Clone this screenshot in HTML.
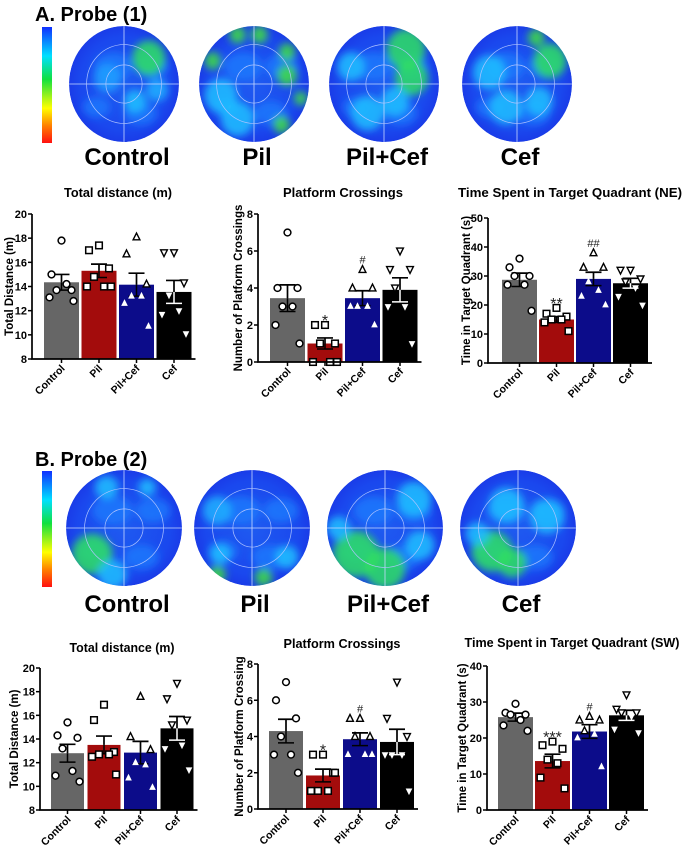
<!DOCTYPE html>
<html><head><meta charset="utf-8"><style>
html,body{margin:0;padding:0;background:#fff;}
svg{display:block;font-family:"Liberation Sans",Arial,sans-serif;}
</style></head><body>
<svg id="fig" width="685" height="852" viewBox="0 0 685 852" xmlns="http://www.w3.org/2000/svg">
<defs>
<linearGradient id="cbar" x1="0" y1="0" x2="0" y2="1">
<stop offset="0" stop-color="#1030ff"/><stop offset="0.25" stop-color="#00e0ff"/><stop offset="0.45" stop-color="#10e040"/><stop offset="0.7" stop-color="#ffff00"/><stop offset="0.85" stop-color="#ff8000"/><stop offset="1" stop-color="#ff1010"/>
</linearGradient>
<radialGradient id="poolbg" cx="0.5" cy="0.5" r="0.5">
<stop offset="0" stop-color="#1f5af0"/><stop offset="0.8" stop-color="#1a48ee"/><stop offset="1" stop-color="#1a3ce8"/>
</radialGradient>
<filter id="blur" x="-50%" y="-50%" width="200%" height="200%"><feGaussianBlur stdDeviation="4"/></filter>
</defs>
<text x="35" y="21" font-size="20" font-weight="bold">A. Probe (1)</text>
<text x="35" y="466" font-size="20" font-weight="bold">B. Probe (2)</text>
<rect x="42" y="27" width="10" height="116" fill="url(#cbar)"/>
<rect x="42" y="471" width="10" height="116" fill="url(#cbar)"/>
<g id="maps"></g>
<g id="charts"></g>
</svg>
<script>
// ---------- Chart data ----------
const groups = ["Control","Pil","Pil+Cef","Cef"];
const colors = ["#666666","#a30c0c","#0c0c8a","#000000"];

const a1Means = [14.35, 15.3, 14.15, 13.55];
const a1Sem = [0.65, 0.55, 0.95, 0.95];
const a1Pts = [[17.8,15.0,13.7,13.7,14.2,13.1,12.8],[17.4,17.0,15.5,14.8,14.0,14.0,14.0],[18.1,16.7,14.2,13.2,13.2,12.6,10.7],[16.8,16.8,14.3,13.3,12.0,11.7,10.1]];
const a1Ticks = [8,10,12,14,16,18,20];

const a2Means = [3.45, 1.0, 3.45, 3.9];
const a2Sem = [0.72, 0.3, 0.4, 0.65];
const a2Pts = [[7,4,4,3,3,2,1],[2,2,1,1,0,0,0],[5,4,4,3,3,3,2],[6,5,5,4,3,3,1]];
const a2Ticks = [0,2,4,6,8];
const a2Marks = ["","*","#",""];

const a3Means = [28.7, 15.0, 29.0, 27.5];
const a3Sem = [2.3, 1.0, 2.3, 1.7];
const a3Pts = [[36,33,30,30,27,27,18],[19,17,16,15,15,14,11],[38,33,33,28,25,23,20],[32,32,29,28,26,23,20]];
const a3Ticks = [0,10,20,30,40,50];
const a3Marks = ["","**","##",""];

const b1Means = [12.8, 13.5, 12.85, 14.9];
const b1Sem = [0.75, 0.75, 0.95, 1.0];
const b1Pts = [[15.4,14.3,14.1,13.2,11.3,10.9,10.4],[16.9,15.6,12.9,12.7,12.7,12.5,11.0],[17.6,14.2,13.1,12.0,11.8,10.7,9.9],[18.7,17.4,15.6,15.2,13.5,13.2,11.4]];
const b1Ticks = [8,10,12,14,16,18,20];

const b2Means = [4.3, 1.85, 3.85, 3.7];
const b2Sem = [0.65, 0.35, 0.35, 0.7];
const b2Pts = [[7,6,5,4,3,3,2],[3,3,2,1,1,1,2],[5,5,4,4,3,3,3],[7,5,4,3,3,3,1]];
const b2Ticks = [0,2,4,6,8];
const b2Marks = ["","*","#",""];

const b3Means = [25.8, 13.6, 21.8, 26.3];
const b3Sem = [1.1, 1.9, 1.9, 1.4];
const b3Pts = [[29.5,27,26.5,26.5,25,23.5,22],[19,18,17,14,13,9,6],[26,25,25,22,21,20,12],[32,28,27,27,26,22.5,21.5]];
const b3Ticks = [0,10,20,30,40];
const b3Marks = ["","***","#",""];

const NS = "http://www.w3.org/2000/svg";
function mk(tag, attrs, parent){
  const e = document.createElementNS(NS, tag);
  for (const k in attrs) e.setAttribute(k, attrs[k]);
  parent.appendChild(e);
  return e;
}
const jitter = [0, -10, 10, -5, 5, -12, 12];

function chart(c){
  const root = document.getElementById("charts");
  const g = mk("g", {}, root);
  
  
  const ymin = c.ticks[0], ymax = c.ticks[c.ticks.length-1];
  const yS = v => c.y0 - (v - ymin) / (ymax - ymin) * (c.y0 - c.y1);
  const bw = c.bw, gap = c.gap;
  const xC = i => c.ax + c.pad + bw/2 + i*(bw+gap);
  const axEnd = c.ax + c.pad + 4*bw + 3*gap + 4;
  const t = mk("text", {x:c.tx, y:c.ty, "font-size":12.5, "font-weight":"bold", "text-anchor":"middle", textLength:c.tw, lengthAdjust:"spacingAndGlyphs"}, g);
  t.textContent = c.title;
  
  
  const cy = (c.y0+c.y1)/2;
  const yl = mk("text", {x:c.ylx, y:cy, "font-size":11.5, "font-weight":"bold", "text-anchor":"middle", transform:`rotate(-90 ${c.ylx} ${cy})`}, g);
  yl.textContent = c.ylabel;
  
  
  c.means.forEach((m, i) => {
    const r = mk("rect", {x:xC(i)-bw/2, y:yS(m), width:bw, height:yS(ymin)-yS(m), fill:colors[i]}, g);
    
    
    const top = yS(m + c.sem[i]);
    const e = mk("path", {d:`M${xC(i)} ${yS(m)}V${top}M${xC(i)-8} ${top}H${xC(i)+8}`, stroke:"#000", "stroke-width":1.7, fill:"none"}, g);
    
    
    const lo = yS(m - c.sem[i]);
    const el = mk("path", {d:`M${xC(i)} ${yS(m)}V${lo}M${xC(i)-8} ${lo}H${xC(i)+8}`, stroke:(i==3?"#fff":"#000"), "stroke-width":1.5, fill:"none"}, g);
    
    
  });
  c.pts.forEach((arr, i) => {
    arr.forEach((v, j) => {
      const px = xC(i) + jitter[j], py = yS(v);
      const inside = v < c.means[i];
      let p;
      const s = (inside && i >= 2) ? 2.2 : 3.4;
      const stroke = (inside && i >= 2) ? "#fff" : "#000";
      if (i === 0) p = mk("circle", {cx:px, cy:py, r:3.4, fill:"#fff", stroke:"#000", "stroke-width":1.5}, g);
      else if (i === 1) p = mk("rect", {x:px-3.3, y:py-3.3, width:6.6, height:6.6, fill:"#fff", stroke:"#000", "stroke-width":1.5}, g);
      else if (i === 2) p = mk("path", {d:`M${px} ${py-s-0.5}L${px+s} ${py+s-0.5}L${px-s} ${py+s-0.5}Z`, fill:"#fff", stroke:stroke, "stroke-width":1.4}, g);
      else p = mk("path", {d:`M${px} ${py+s+0.5}L${px+s} ${py-s+0.5}L${px-s} ${py-s+0.5}Z`, fill:"#fff", stroke:stroke, "stroke-width":1.4}, g);
      
      
    });
  });
  if (c.marks) c.marks.forEach((m, i) => {
    if (!m) return;
    const top = Math.max(...c.pts[i], c.means[i]+c.sem[i]);
    const isStar = m[0] === "*";
    const tx = mk("text", {x:xC(i), y: isStar ? yS(top) + 1 : yS(top) - 6, "font-size": isStar?16:11, "text-anchor":"middle", fill:"#222"}, g);
    tx.textContent = m;
    
    
  });
  const ax = mk("path", {d:`M${c.ax} ${c.y1}V${c.y0}H${axEnd}`, stroke:"#000", "stroke-width":1.7, fill:"none"}, g);
  
  
  c.ticks.forEach(v => {
    mk("line", {x1:c.ax-4, x2:c.ax, y1:yS(v), y2:yS(v), stroke:"#000", "stroke-width":1.5}, g);
    const tl = mk("text", {x:c.ax-5, y:yS(v)+4, "font-size":11, "font-weight":"bold", "text-anchor":"end"}, g);
    tl.textContent = v;
    
    
  });
  groups.forEach((n, i) => {
    mk("line", {x1:xC(i), x2:xC(i), y1:c.y0, y2:c.y0+4, stroke:"#000", "stroke-width":1.5}, g);
    const lx = xC(i)+4, ly = c.y0+10;
    const xl = mk("text", {x:lx, y:ly, "font-size":10.5, "font-weight":"bold", "text-anchor":"end", transform:`rotate(-45 ${lx} ${ly})`}, g);
    xl.textContent = n;
    
    
  });
}

chart({name:"a-total-distance-chart", title:"Total distance (m)", tx:118, tw:108, ylabel:"Total Distance (m)", ylx:13, ax:32, y0:359, y1:214, ty:197, pad:12, bw:35, gap:2.5, means:a1Means, sem:a1Sem, pts:a1Pts, ticks:a1Ticks});
chart({name:"a-platform-crossings-chart", title:"Platform Crossings", tx:343, tw:120, ylabel:"Number of Platform Crossings", ylx:242, ax:258, y0:362, y1:214, ty:197, pad:12, bw:35, gap:2.5, means:a2Means, sem:a2Sem, pts:a2Pts, ticks:a2Ticks, marks:a2Marks});
chart({name:"a-time-target-quadrant-chart", title:"Time Spent in Target Quadrant (NE)", tx:570, tw:224, ylabel:"Time in Target Quadrant (s)", ylx:470, ax:488, y0:363, y1:218, ty:197, pad:14, bw:35, gap:2, means:a3Means, sem:a3Sem, pts:a3Pts, ticks:a3Ticks, marks:a3Marks});
chart({name:"b-total-distance-chart", title:"Total distance (m)", tx:122, tw:105, ylabel:"Total Distance (m)", ylx:18, ax:40, y0:810, y1:668, ty:652, pad:11, bw:33, gap:3.5, means:b1Means, sem:b1Sem, pts:b1Pts, ticks:b1Ticks});
chart({name:"b-platform-crossings-chart", title:"Platform Crossings", tx:342, tw:117, ylabel:"Number of Platform Crossing", ylx:243, ax:258, y0:809, y1:664, ty:648, pad:11, bw:34, gap:3, means:b2Means, sem:b2Sem, pts:b2Pts, ticks:b2Ticks, marks:b2Marks});
chart({name:"b-time-target-quadrant-chart", title:"Time Spent in Target Quadrant (SW)", tx:572, tw:215, ylabel:"Time in Target Quadrant (s)", ylx:466, ax:487, y0:810, y1:666, ty:647, pad:11, bw:35, gap:2, means:b3Means, sem:b3Sem, pts:b3Pts, ticks:b3Ticks, marks:b3Marks});

// ---------- Heatmaps (decorative) ----------
const mapsA = [[124,84,55,58],[254,84,55,58],[384,84,55,58],[517,84,55,58]];
const mapsB = [[124,528,58,58],[252,528,58,58],[385,528,58,58],[518,528,58,58]];
const blobsA = [
 [[0.45,-0.45,0.3,"#30e060"],[0.2,0.3,0.2,"#20c0ff"],[-0.3,-0.1,0.25,"#20a0ff"],[0.6,0.1,0.2,"#20b0ff"]],
 [[-0.3,-0.85,0.15,"#40e040"],[0.1,-0.85,0.15,"#40e040"],[0.6,-0.55,0.15,"#40e040"],[-0.75,-0.4,0.15,"#40e040"],[0.6,-0.15,0.18,"#40e040"],[0.85,0.25,0.12,"#40e040"],[0.5,0.7,0.15,"#40e040"],[-0.3,0.6,0.3,"#20c0ff"],[-0.6,0.2,0.3,"#20c0ff"]],
 [[0.4,-0.6,0.35,"#30e060"],[0.5,-0.1,0.3,"#30e060"],[-0.6,-0.3,0.25,"#20c0ff"],[-0.3,0.5,0.3,"#20c0ff"],[0.2,0.3,0.25,"#20c0ff"]],
 [[0.6,-0.4,0.3,"#30e060"],[0.35,-0.8,0.15,"#40e040"],[-0.5,-0.2,0.3,"#20c0ff"],[-0.2,0.4,0.3,"#20c0ff"],[0.4,0.3,0.25,"#20c0ff"]]
];
const blobsB = [
 [[-0.55,0.45,0.35,"#30e060"],[-0.3,-0.7,0.2,"#20c0ff"],[0.4,-0.7,0.15,"#20c0ff"],[-0.2,0.8,0.25,"#20c0ff"]],
 [[-0.55,0.45,0.18,"#20c0ff"],[-0.6,-0.3,0.25,"#20b0ff"],[0.6,0.5,0.2,"#20c0ff"],[0.2,0.85,0.15,"#40e040"],[-0.6,0.8,0.15,"#40e040"]],
 [[-0.5,0.45,0.4,"#30e060"],[0.0,0.7,0.35,"#30e060"],[-0.8,0.0,0.2,"#20c0ff"],[0.5,-0.5,0.3,"#20c0ff"],[0.6,0.3,0.25,"#20c0ff"]],
 [[-0.45,0.4,0.35,"#30e060"],[-0.1,0.6,0.25,"#30e060"],[-0.2,-0.4,0.3,"#20c0ff"],[0.5,-0.2,0.3,"#20c0ff"],[-0.7,0.1,0.2,"#20c0ff"]]
];
const mapG = document.getElementById("maps");
function pool(p, blobs, name, label, ly){
  const g = mk("g", {}, mapG);
  
  
  const id = name + "-clip";
  const cp = mk("clipPath", {id:id}, g);
  mk("ellipse", {cx:p[0], cy:p[1], rx:p[2], ry:p[3]}, cp);
  const inner = mk("g", {"clip-path":`url(#${id})`}, g);
  mk("ellipse", {cx:p[0], cy:p[1], rx:p[2], ry:p[3], fill:"url(#poolbg)"}, inner);
  const bg = mk("g", {filter:"url(#blur)"}, inner);
  [[-0.2,-0.3,0.35],[0.3,0.5,0.3],[-0.5,0.4,0.25],[0.5,-0.3,0.3]].forEach(b => {
    mk("ellipse", {cx:p[0]+b[0]*p[2], cy:p[1]+b[1]*p[3], rx:b[2]*p[2], ry:b[2]*p[3]*0.7, fill:"#1a80ff", opacity:0.7}, bg);
  });
  blobs.forEach(b => {
    mk("ellipse", {cx:p[0]+b[0]*p[2], cy:p[1]+b[1]*p[3], rx:b[2]*p[2], ry:b[2]*p[3], fill:b[3], opacity:0.85}, bg);
  });
  mk("path", {d:`M${p[0]-p[2]} ${p[1]}H${p[0]+p[2]}M${p[0]} ${p[1]-p[3]}V${p[1]+p[3]}`, stroke:"#c8d8ff", "stroke-width":0.8}, inner);
  mk("ellipse", {cx:p[0], cy:p[1], rx:p[2]*0.68, ry:p[3]*0.68, fill:"none", stroke:"#b0c4ff", "stroke-width":0.7}, inner);
  mk("ellipse", {cx:p[0], cy:p[1], rx:p[2]*0.33, ry:p[3]*0.33, fill:"none", stroke:"#b0c4ff", "stroke-width":0.7}, inner);
  const t = mk("text", {x:p[0]+3, y:ly, "font-size":24, "font-weight":"bold", "text-anchor":"middle"}, g);
  t.textContent = label;
  
  
}
mapsA.forEach((p,i) => pool(p, blobsA[i], "heatmap-a-" + i, groups[i], 165));
mapsB.forEach((p,i) => pool(p, blobsB[i], "heatmap-b-" + i, groups[i], 612));
</script>
</body></html>
